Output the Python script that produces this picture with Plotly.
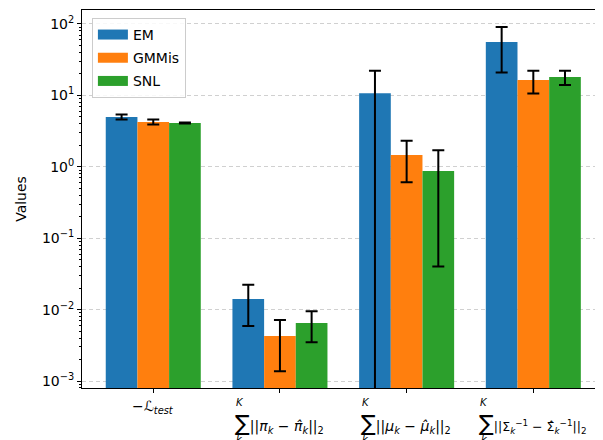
import plotly.graph_objects as go

# ---- data ----
series = ["EM", "GMMis", "SNL"]
colors = ["#1f77b4", "#ff7f0e", "#2ca02c"]
em_vals = [5.0, 0.0141, 10.7, 56.0]
em_err = [0.42, 0.0082, 11.5, 35.0]
gmmis_vals = [4.25, 0.00427, 1.46, 16.4]
gmmis_err = [0.35, 0.0029, 0.85, 5.8]
snl_vals = [4.1, 0.0065, 0.87, 18.1]
snl_err = [0.07, 0.003, 0.83, 4.1]
values = [em_vals, gmmis_vals, snl_vals]
errors = [em_err, gmmis_err, snl_err]
categories = [0, 1, 2, 3]
cat_labels = [
    "−ℒ<sub><i>test</i></sub>",
    "<span style='font-size:22px'>∑</span>||<i>π</i><sub><i>k</i></sub> − <i>π̂</i><sub><i>k</i></sub>||<sub>2</sub>",
    "<span style='font-size:22px'>∑</span>||<i>μ</i><sub><i>k</i></sub> − <i>μ̂</i><sub><i>k</i></sub>||<sub>2</sub>",
    "<span style='font-size:22px'>∑</span>||Σ<sub><i>k</i></sub><sup>−1</sup> − Σ̂<sub><i>k</i></sub><sup>−1</sup>||<sub>2</sub>",
]
label_sizes = [14, 14, 14, 12.5]
sum_upper = [None, "<i>K</i>", "<i>K</i>", "<i>K</i>"]
sum_lower = [None, "<i>k</i>", "<i>k</i>", "<i>k</i>"]
ytick_vals = [1e-3, 1e-2, 1e-1, 1e0, 1e1, 1e2]
ytick_text = ["10<sup>−3</sup>", "10<sup>−2</sup>", "10<sup>−1</sup>",
              "10<sup>0</sup>", "10<sup>1</sup>", "10<sup>2</sup>"]
minor_vals = [k * 10.0 ** e for e in range(-4, 3) for k in range(2, 10)]

FONT = "DejaVu Sans"
fig = go.Figure()

for i, name in enumerate(series):
    fig.add_trace(go.Bar(
        x=categories, y=values[i], name=name,
        marker=dict(color=colors[i], line=dict(width=0)),
        error_y=dict(type="data", array=errors[i], color="black",
                     thickness=2, width=6),
        showlegend=False,
    ))
# legend proxies (wide patches like matplotlib)
for i, name in enumerate(series):
    fig.add_trace(go.Scatter(
        x=[None], y=[None], mode="lines", name=name, legendgroup=name,
        line=dict(color=colors[i], width=12), showlegend=True,
        hoverinfo="skip",
    ))

# x labels as annotations
label_shift = [0, -47, -48, -56]
for i, c in enumerate(categories):
    if sum_upper[i] is None:
        fig.add_annotation(x=c, xref="x", y=0, yref="paper", text=cat_labels[i],
                           showarrow=False, xanchor="center", yanchor="middle",
                           yshift=-19, font=dict(family=FONT, size=label_sizes[i], color="black"))
    else:
        fig.add_annotation(x=c, xref="x", y=0, yref="paper", text=cat_labels[i],
                           showarrow=False, xanchor="left", yanchor="middle",
                           xshift=label_shift[i], yshift=-35,
                           font=dict(family=FONT, size=label_sizes[i], color="black"))
        fig.add_annotation(x=c, xref="x", y=0, yref="paper", text=sum_upper[i],
                           showarrow=False, xanchor="center", yanchor="middle",
                           xshift=label_shift[i] + 7, yshift=-14,
                           font=dict(family=FONT, size=10, color="black"))
        fig.add_annotation(x=c, xref="x", y=0, yref="paper", text=sum_lower[i],
                           showarrow=False, xanchor="center", yanchor="middle",
                           xshift=label_shift[i] + 7, yshift=-51,
                           font=dict(family=FONT, size=10, color="black"))

fig.update_layout(
    width=603, height=440,
    margin=dict(l=74, r=8, t=2, b=60),
    paper_bgcolor="white", plot_bgcolor="white",
    font=dict(family=FONT, size=13, color="black"),
    barmode="group", bargap=0.25, bargroupgap=0,
    legend=dict(x=0.019, y=0.979, xanchor="left", yanchor="top",
                bgcolor="rgba(255,255,255,0.85)", bordercolor="#cccccc",
                borderwidth=1, font=dict(family=FONT, size=14),
                traceorder="grouped", tracegroupgap=2,
                entrywidth=108, entrywidthmode="pixels"),
    xaxis=dict(range=[-0.5625, 3.55], tickvals=categories, showticklabels=False,
               ticks="outside", ticklen=4, tickcolor="black",
               showline=True, linecolor="black", linewidth=1, mirror=True,
               showgrid=False, zeroline=False),
    yaxis=dict(type="log", range=[-3.098, 2.196],
               tickvals=ytick_vals, ticktext=ytick_text,
               ticks="outside", ticklen=4, tickcolor="black",
               tickfont=dict(family=FONT, size=14),
               showline=True, linecolor="black", linewidth=1, mirror=True,
               showgrid=True, gridcolor="#d0d0d0", griddash="4px,3px", gridwidth=1,
               minor=dict(tickvals=minor_vals, ticks="outside", ticklen=2,
                          tickcolor="black", showgrid=False),
               title=dict(text="Values", font=dict(family=FONT, size=14), standoff=12),
               zeroline=False),
)

fig.write_html("out.html")
